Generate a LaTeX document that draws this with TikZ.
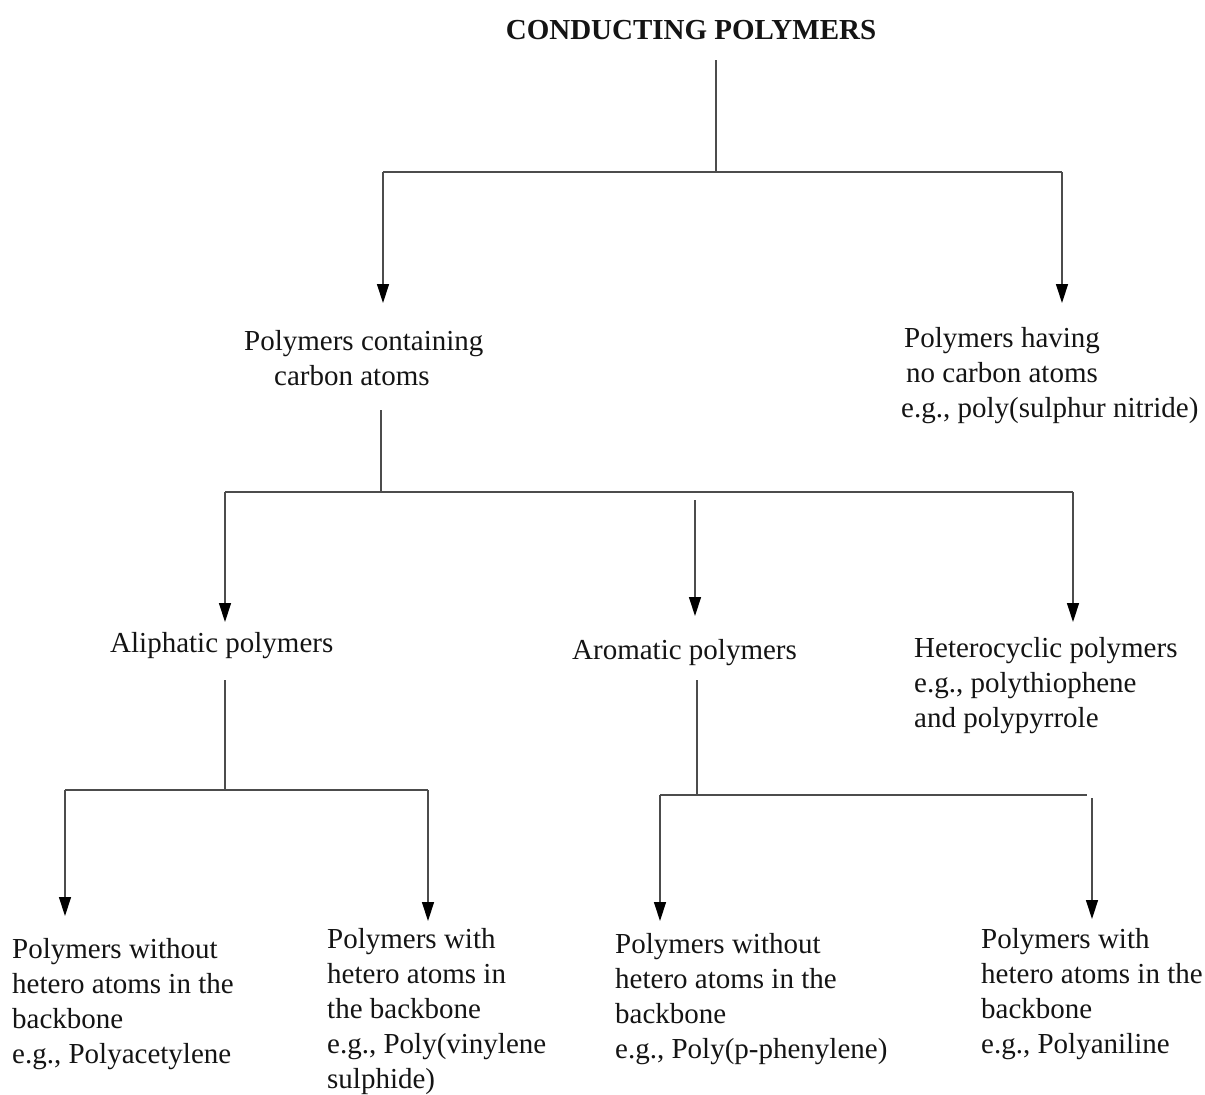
\documentclass[tikz,border=0pt]{standalone}
\usepackage{fontspec}
\setmainfont{Liberation Serif}
\usetikzlibrary{arrows.meta}
\begin{document}
\begin{tikzpicture}[x=1pt,y=-1pt,
  lbl/.style={inner sep=0pt, anchor=base west, align=left, font=\fontsize{29}{35}\selectfont, text=black!92},
  conn/.style={draw=black!70, line width=1.3pt},
  arr/.style={conn, -{Triangle[length=19pt,width=12pt,color=black,fill=black]}}]
\useasboundingbox (0,0) rectangle (1205,1095);
% nodes (base anchor = baseline of the last line)
\node[lbl, anchor=base, font=\fontsize{29}{35}\selectfont\bfseries] (title) at (691,39) {CONDUCTING POLYMERS};
\node[lbl] (carbon) at (244,385) {Polymers containing\\\hspace{30pt}carbon atoms};
\node[lbl] (nocarbon) at (904,417) {Polymers having\\\hspace{2pt}no carbon atoms\\\hspace*{-3pt}e.g., poly(sulphur nitride)};
\node[lbl] (aliph) at (110,652) {Aliphatic polymers};
\node[lbl] (arom) at (572,659) {Aromatic polymers};
\node[lbl] (hetero) at (914,727) {Heterocyclic polymers\\e.g., polythiophene\\and polypyrrole};
\node[lbl] (alwo) at (12,1063) {Polymers without\\hetero atoms in the\\backbone\\e.g., Polyacetylene};
\node[lbl] (alwi) at (327,1088) {Polymers with\\hetero atoms in\\the backbone\\e.g., Poly(vinylene\\sulphide)};
\node[lbl] (arwo) at (615,1058) {Polymers without\\hetero atoms in the\\backbone\\e.g., Poly(p-phenylene)};
\node[lbl] (arwi) at (981,1053) {Polymers with\\hetero atoms in the\\backbone\\e.g., Polyaniline};
% coordinates
\coordinate (t0) at (716,60);
\coordinate (j1) at (716,172);
\coordinate (j1l) at (383,172);
\coordinate (j1r) at (1062,172);
\coordinate (carbonTip) at (383,303);
\coordinate (nocarbonTip) at (1062,303);
\coordinate (c0) at (381,410);
\coordinate (j2) at (381,492);
\coordinate (j2l) at (225,492);
\coordinate (j2r) at (1073,492);
\coordinate (m0) at (695,500);
\coordinate (aliphTip) at (225,622);
\coordinate (aromTip) at (695,616);
\coordinate (heteroTip) at (1073,622);
\coordinate (a0) at (225,680);
\coordinate (j3) at (225,790);
\coordinate (j3l) at (65,790);
\coordinate (j3r) at (428,790);
\coordinate (alwoTip) at (65,916);
\coordinate (alwiTip) at (428,921);
\coordinate (r0) at (697,680);
\coordinate (j4) at (697,795);
\coordinate (j4l) at (660,795);
\coordinate (j4r) at (1087,795);
\coordinate (r1) at (1092,798);
\coordinate (arwoTip) at (660,921);
\coordinate (arwiTip) at (1092,919);
% connectors
\draw[conn] (t0) -- (j1);
\draw[conn] (j1l) -- (j1r);
\draw[arr] (j1l) -- (carbonTip);
\draw[arr] (j1r) -- (nocarbonTip);
\draw[conn] (c0) -- (j2);
\draw[conn] (j2l) -- (j2r);
\draw[arr] (j2l) -- (aliphTip);
\draw[arr] (m0) -- (aromTip);
\draw[arr] (j2r) -- (heteroTip);
\draw[conn] (a0) -- (j3);
\draw[conn] (j3l) -- (j3r);
\draw[arr] (j3l) -- (alwoTip);
\draw[arr] (j3r) -- (alwiTip);
\draw[conn] (r0) -- (j4);
\draw[conn] (j4l) -- (j4r);
\draw[arr] (j4l) -- (arwoTip);
\draw[arr] (r1) -- (arwiTip);
\end{tikzpicture}
\end{document}
